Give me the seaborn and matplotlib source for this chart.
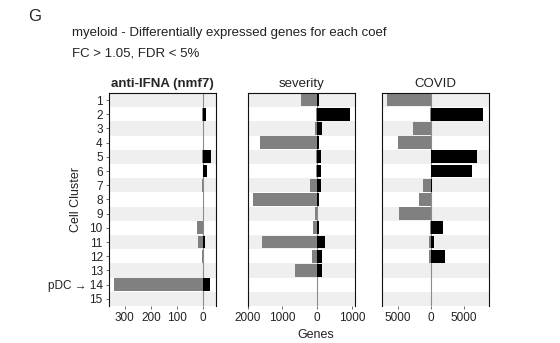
import numpy as np
import pandas as pd
import seaborn as sns
import matplotlib.pyplot as plt

# clusters, top to bottom
clusters = [str(i) for i in range(1, 16)]
cluster_labels = clusters.copy()
cluster_labels[13] = "pDC \u2192 14"

# number of genes down (grey, drawn to the left) and up (black) per coef
ifna_down = [0, 5, 0, 0, 5, 0, 4, 0, 0, 23, 19, 5, 0, 341, 0]
ifna_up = [0, 10, 0, 0, 30, 14, 0, 0, 0, 0, 6, 0, 0, 27, 0]
sev_down = [470, 40, 65, 1660, 40, 30, 210, 1840, 50, 125, 1580, 150, 640, 0, 0]
sev_up = [65, 935, 150, 65, 95, 95, 95, 65, 0, 65, 220, 150, 150, 0, 0]
covid_down = [6650, 100, 2650, 4900, 0, 0, 1150, 1750, 4750, 100, 250, 250, 0, 0, 0]
covid_up = [0, 7850, 0, 50, 6950, 6200, 200, 0, 0, 1850, 500, 2150, 0, 0, 0]

panels = [
    ("anti-IFNA (nmf7)", ifna_down, ifna_up, (-361, 49), [-300, -200, -100, 0]),
    ("severity", sev_down, sev_up, (-1960, 1077), [-2000, -1000, 0, 1000]),
    ("COVID", covid_down, covid_up, (-7350, 8700), [-5000, 0, 5000]),
]

sns.set_style("white")
plt.rcParams["font.family"] = ["Liberation Sans", "DejaVu Sans"]

fig = plt.figure(figsize=(5.6, 3.43), dpi=100)
lefts = [0.1946, 0.4423, 0.682]

for k, (title, down, up, lims, ticks) in enumerate(panels):
    ax = fig.add_axes([lefts[k], 0.108, 0.191, 0.621])
    df = pd.DataFrame({
        "cluster": clusters * 2,
        "genes": [-v for v in down] + up,
        "dir": ["down"] * 15 + ["up"] * 15,
    })
    for i in range(0, 15, 2):
        ax.axhspan(i - 0.5, i + 0.5, color="#efefef", lw=0, zorder=0)
    sns.barplot(data=df, x="genes", y="cluster", hue="dir", order=clusters,
                palette={"down": "#808080", "up": "#000000"}, dodge=False,
                width=0.9, legend=False, ax=ax, zorder=2, linewidth=0)
    ax.axvline(0, color="#8c8c8c", lw=0.8, zorder=1)
    ax.set_xlim(*lims)
    ax.set_ylim(14.5, -0.5)
    ax.set_xticks(ticks)
    ax.set_xticklabels([str(abs(t)) for t in ticks], fontsize=8.5, color="#222222")
    ax.tick_params(axis="x", length=2.5, width=0.6, color="#555555", pad=2, bottom=True)
    ax.set_xlabel("")
    ax.set_ylabel("")
    if k == 0:
        ax.set_yticks(range(15))
        ax.set_yticklabels(cluster_labels, fontsize=8.5, color="#222222")
        ax.tick_params(axis="y", length=2.5, width=0.6, color="#555555", pad=2, left=True)
        ax.set_title(title, fontsize=9.5, fontweight="bold", pad=4)
    else:
        ax.set_yticks([])
        ax.set_title(title, fontsize=9.5, pad=4, color="#222222")
    for s in ["left", "right", "top"]:
        ax.spines[s].set_visible(True)
        ax.spines[s].set_color("#111111")
        ax.spines[s].set_linewidth(0.8)
    ax.spines["bottom"].set_visible(False)

fig.text(0.05, 0.953, "G", fontsize=12, va="center", ha="left")
fig.text(0.1286, 0.904, "myeloid - Differentially expressed genes for each coef",
         fontsize=9.5, va="center", ha="left", color="#222222")
fig.text(0.1286, 0.845, "FC > 1.05, FDR < 5%", fontsize=9.5, va="center", ha="left",
         color="#222222")
fig.text(0.136, 0.417, "Cell Cluster", rotation=90, fontsize=9, va="center", ha="center",
         color="#222222")
fig.text(0.564, 0.023, "Genes", fontsize=9, va="center", ha="center", color="#222222")

fig.savefig("out.png", dpi=100)
